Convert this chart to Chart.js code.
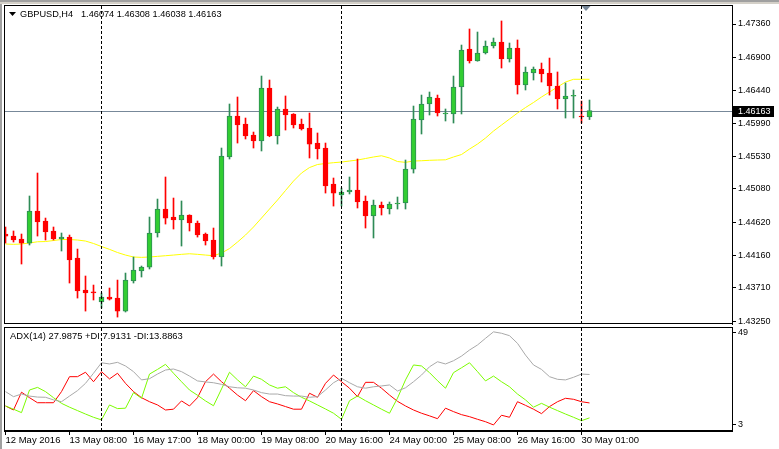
<!DOCTYPE html>
<html>
<head>
<meta charset="utf-8">
<script src="https://cdn.jsdelivr.net/npm/chart.js@4.4.1/dist/chart.umd.min.js"></script>
<style>
	html, body {margin:0; padding:0; background:#fff; overflow:hidden;}
	#wrap {position:relative; width:779px; height:449px;}
	.box {position:absolute; left:0; width:779px;}
</style>
</head>
<body>
<div id="wrap">
	<div class="box" style="top:0; height:326px;"><canvas id="main" width="779" height="326"></canvas></div>
	<div class="box" style="top:326px; height:123px;"><canvas id="adx" width="779" height="123"></canvas></div>
</div>
<script>
// dados (GBPUSD H4)
const symbolTitle = 'GBPUSD,H4';
const lastQuote = '1.46074 1.46308 1.46038 1.46163';
const adxTitle = 'ADX(14) 27.9875 +DI:7.9131 -DI:13.8863';

const opens = [1.44454,1.44426,1.44385,1.44329,1.44772,1.44634,1.44496,1.44385,1.44412,1.44122,
	1.43679,1.43648,1.43513,1.43582,1.43568,1.43388,1.43804,1.43942,1.43997,1.44468,
	1.44800,1.44689,1.44648,1.44717,1.44606,1.44454,1.44371,1.44136,1.45520,1.46087,
	1.45976,1.45824,1.45741,1.46474,1.45810,1.46184,1.46115,1.45976,1.45921,1.45713,
	1.45644,1.45146,1.44994,1.45035,1.45063,1.44911,1.44703,1.44855,1.44800,1.44869,
	1.44883,1.45353,1.46032,1.46253,1.46336,1.46115,1.46115,1.46488,1.47014,1.46848,
	1.46959,1.47056,1.47111,1.46876,1.47028,1.46516,1.46682,1.46737,1.46682,1.46502,
	1.46322,1.46360,1.46087,1.46074];
const highs = [1.44551,1.44496,1.44454,1.44980,1.45298,1.44675,1.44551,1.44468,1.44440,1.44246,
	1.43873,1.43748,1.43638,1.43707,1.43817,1.43914,1.44136,1.44011,1.44689,1.44938,
	1.45243,1.44952,1.44911,1.44720,1.44634,1.44468,1.44537,1.45644,1.46253,1.46350,
	1.46059,1.45865,1.46640,1.46585,1.46211,1.46364,1.46120,1.46045,1.46128,1.45852,
	1.45713,1.45229,1.45091,1.45243,1.45492,1.44980,1.44924,1.44897,1.44897,1.44966,
	1.45478,1.46225,1.46377,1.46419,1.46377,1.46184,1.46640,1.47069,1.47291,1.47249,
	1.47125,1.47166,1.47402,1.47097,1.47139,1.46765,1.46765,1.46820,1.46889,1.46696,
	1.46544,1.46447,1.46294,1.46308];
const lows = [1.44329,1.44343,1.44039,1.44302,1.44426,1.44371,1.44371,1.44219,1.43776,1.43568,
	1.43388,1.43541,1.43430,1.43541,1.43305,1.43375,1.43776,1.43859,1.43970,1.44412,
	1.44592,1.44523,1.44288,1.44496,1.44412,1.44302,1.44108,1.44011,1.45492,1.45713,
	1.45769,1.45644,1.45603,1.45800,1.45699,1.45893,1.45921,1.45893,1.45506,1.45492,
	1.45021,1.44841,1.44841,1.45008,1.44814,1.44537,1.44399,1.44717,1.44731,1.44800,
	1.44800,1.45298,1.45838,1.46101,1.46087,1.46018,1.45990,1.46115,1.46820,1.46845,
	1.46945,1.47028,1.46751,1.46834,1.46391,1.46447,1.46585,1.46557,1.46377,1.46184,
	1.46059,1.46059,1.45990,1.46038];
const closes = [1.44426,1.44371,1.44329,1.44772,1.44620,1.44482,1.44385,1.44412,1.44094,1.43665,
	1.43638,1.43640,1.43582,1.43554,1.43388,1.43817,1.43956,1.43997,1.44468,1.44800,
	1.44675,1.44648,1.44717,1.44606,1.44440,1.44357,1.44136,1.45533,1.46087,1.45962,
	1.45810,1.45741,1.46474,1.45810,1.46184,1.46101,1.45962,1.45907,1.45699,1.45630,
	1.45118,1.45021,1.45035,1.45063,1.44897,1.44703,1.44855,1.44814,1.44869,1.44883,
	1.45353,1.46045,1.46253,1.46350,1.46128,1.46128,1.46488,1.47000,1.46848,1.46959,
	1.47056,1.47111,1.46876,1.47028,1.46516,1.46696,1.46737,1.46668,1.46502,1.46322,
	1.46364,1.46366,1.46073,1.46163];
const movingAvg = [1.44316,1.44311,1.44316,1.44330,1.44347,1.44350,1.44364,1.44378,1.44378,1.44371,
	1.44357,1.44323,1.44281,1.44242,1.44198,1.44163,1.44136,1.44131,1.44136,1.44145,
	1.44154,1.44163,1.44173,1.44181,1.44173,1.44163,1.44154,1.44191,1.44253,1.44343,
	1.44440,1.44551,1.44675,1.44800,1.44924,1.45056,1.45187,1.45298,1.45374,1.45416,
	1.45430,1.45441,1.45450,1.45464,1.45478,1.45499,1.45520,1.45537,1.45506,1.45457,
	1.45446,1.45464,1.45468,1.45474,1.45478,1.45481,1.45520,1.45554,1.45630,1.45699,
	1.45782,1.45879,1.45962,1.46045,1.46128,1.46204,1.46274,1.46350,1.46419,1.46488,
	1.46557,1.46595,1.46595,1.46595];

const adxLine = [19.5,17.0,18.3,17.3,16.8,16.7,15.4,14.5,17.3,20.0,
	23.6,28.6,33.8,33.2,34.0,32.2,29.4,25.3,25.9,28.2,
	30.2,30.7,29.4,27.2,24.8,24.3,23.9,23.1,21.9,21.4,
	21.2,20.3,19.0,18.3,18.3,17.5,17.3,17.3,16.7,17.0,
	20.3,23.9,26.1,23.9,21.9,21.2,21.9,22.3,22.8,19.8,
	21.4,24.4,27.7,31.8,34.3,33.2,34.8,37.1,40.1,42.6,
	45.9,49.1,48.4,47.2,43.4,37.6,32.7,30.5,26.9,25.6,
	25.3,26.6,28.2,28.0];
const plusDI = [12.4,10.8,9.1,20.3,21.6,19.5,16.5,13.7,11.8,10.1,
	8.4,6.8,5.5,12.9,11.1,11.3,19.0,16.2,28.2,30.5,
	33.0,28.6,24.4,20.3,17.7,14.9,12.5,20.8,29.1,25.3,
	21.9,27.2,25.6,22.8,21.2,21.9,19.0,16.7,14.9,12.9,
	10.9,8.8,5.8,15.0,17.3,15.0,12.9,10.8,8.8,16.3,
	25.3,32.7,32.2,28.9,24.9,21.2,28.9,31.3,33.8,29.4,
	24.8,27.2,24.4,21.9,18.3,15.4,11.8,13.7,11.8,10.1,
	8.4,6.8,5.1,6.5];
const minusDI = [12.4,10.4,19.2,16.5,14.0,14.0,14.0,19.5,26.9,26.9,
	29.1,24.4,29.4,25.8,28.6,23.6,19.5,16.5,14.5,12.9,
	10.4,10.8,14.9,12.4,16.5,24.4,28.2,24.4,21.2,17.8,
	15.0,20.0,17.0,14.5,13.4,12.1,10.8,10.8,18.7,16.7,
	23.6,27.7,24.4,21.2,17.0,24.1,24.1,21.2,17.8,14.7,
	12.4,10.4,8.8,7.5,6.1,11.3,9.6,8.1,7.1,5.8,
	4.6,3.0,7.8,6.8,14.5,12.7,10.8,8.6,12.1,14.5,
	16.2,15.7,14.5,13.9];

const priceTicks = [1.43250,1.43710,1.44160,1.44620,1.45080,1.45530,1.45990,1.46440,1.46900,1.47360];
const adxTicks = [3, 49];
const timeLabels = ['12 May 2016','13 May 08:00','16 May 17:00','18 May 00:00','19 May 08:00',
	'20 May 16:00','24 May 00:00','25 May 08:00','26 May 16:00','30 May 01:00'];
const labelBars = [0,8,16,24,32,40,48,56,64,72];
const separatorBars = [12,42,72];

const FONT = '"Liberation Sans", Arial, sans-serif';
const X_MIN = -0.1875, X_MAX = 90.8125;
const UP = '#32cd32', UP_LINE = '#2e8b57', DOWN = '#ff0000';

let bars = closes.map((c, i) => i);
let isUp = bars.map(i => closes[i] >= opens[i]);

function drawSeparators(chart){
	let ctx = chart.ctx, area = chart.chartArea, xs = chart.scales.x;
	ctx.save();
	ctx.strokeStyle = '#000';
	ctx.lineWidth = 1;
	ctx.setLineDash([3, 2]);
	separatorBars.forEach((b) => {
		let x = Math.round(xs.getPixelForValue(b)) - 0.5;
		ctx.beginPath();
		ctx.moveTo(x, area.top + 1);
		ctx.lineTo(x, area.bottom);
		ctx.stroke();
	});
	ctx.restore();
}

function drawFrame(chart){
	let ctx = chart.ctx, a = chart.chartArea;
	ctx.save();
	ctx.strokeStyle = '#000';
	ctx.lineWidth = 1;
	ctx.strokeRect(a.left + 0.5, a.top + 0.5, a.right - a.left, a.bottom - a.top - 1);
	ctx.restore();
}

const mainPlugin = {
	id: 'mainPlugin',
	beforeDatasetsDraw(chart){
		let ctx = chart.ctx, a = chart.chartArea;
		let y = Math.round(chart.scales.y.getPixelForValue(closes[closes.length - 1])) + 0.5;
		ctx.save();
		ctx.strokeStyle = '#778899';
		ctx.lineWidth = 1;
		ctx.beginPath();
		ctx.moveTo(a.left, y);
		ctx.lineTo(a.right, y);
		ctx.stroke();
		ctx.restore();
	},
	afterDatasetsDraw(chart){
		drawSeparators(chart);
	},
	afterDraw(chart){
		let ctx = chart.ctx, a = chart.chartArea;
		ctx.save();
		// borda da janela
		ctx.fillStyle = '#a0a0a0';
		ctx.fillRect(0, 0, 779, 2);
		ctx.fillRect(0, 0, 2, 326);
		ctx.fillStyle = '#d4d0c8';
		ctx.fillRect(0, 2, 779, 2);
		ctx.restore();
		drawFrame(chart);

		ctx.save();
		ctx.fillStyle = '#000';
		ctx.beginPath();
		ctx.moveTo(9, 12); ctx.lineTo(16, 12); ctx.lineTo(12.5, 16);
		ctx.fill();
		ctx.font = '9.2px ' + FONT;
		ctx.textBaseline = 'middle';
		ctx.fillText(symbolTitle, 20, 14);
		ctx.fillText(lastQuote, 81, 14);

		// marcador de deslocamento
		let sx = chart.scales.x.getPixelForValue(separatorBars[2]);
		ctx.fillStyle = '#778899';
		ctx.beginPath();
		ctx.moveTo(sx, a.top + 1); ctx.lineTo(sx + 9, a.top + 1); ctx.lineTo(sx + 4.5, a.top + 6);
		ctx.fill();

		// preço atual no eixo
		let last = closes[closes.length - 1];
		let y = Math.round(chart.scales.y.getPixelForValue(last));
		ctx.fillStyle = '#000';
		ctx.fillRect(a.right + 1, y - 5, 41, 11);
		ctx.fillStyle = '#fff';
		ctx.font = '9px ' + FONT;
		ctx.fillText(last.toFixed(5), a.right + 6, y + 0.5);
		ctx.restore();
	}
};

const adxPlugin = {
	id: 'adxPlugin',
	afterDatasetsDraw(chart){
		drawSeparators(chart);
	},
	afterDraw(chart){
		let ctx = chart.ctx;
		ctx.save();
		ctx.fillStyle = '#a0a0a0';
		ctx.fillRect(0, 0, 2, 123);
		ctx.restore();
		drawFrame(chart);
		ctx.save();
		ctx.fillStyle = '#000';
		ctx.font = '9.4px ' + FONT;
		ctx.textBaseline = 'middle';
		ctx.fillText(adxTitle, 10, 10);
		ctx.restore();
	}
};

function yAxis(min, max, ticks, fmt){
	return {
		position: 'right', min: min, max: max,
		afterBuildTicks: (s) => { s.ticks = ticks.map((v) => ({value: v})); },
		afterFit: (s) => { s.width = 47; s.paddingTop = 0; s.paddingBottom = 0; },
		ticks: {callback: fmt, font: {family: FONT, size: 9}, color: '#000', padding: 2, autoSkip: false},
		grid: {drawOnChartArea: false, color: '#000', tickLength: 4},
		border: {color: '#000'}
	};
}

let mainChart, adxChart;

function setupCharts(){
	mainChart = new Chart(document.getElementById('main'), {
		data: {
			datasets: [
				{type: 'line', data: bars.map((i) => ({x: i, y: movingAvg[i]})), borderColor: '#ffff00',
					borderWidth: 1, pointRadius: 0, order: 3},
				{type: 'bar', data: bars.map((i) => ({x: i, y: [lows[i], highs[i]]})),
					backgroundColor: bars.map((i) => isUp[i] ? UP_LINE : DOWN),
					barThickness: 1, grouped: false, order: 2},
				{type: 'bar', data: bars.map((i) => ({x: i, y: [opens[i], closes[i]]})),
					backgroundColor: bars.map((i) => isUp[i] ? UP : DOWN),
					borderColor: bars.map((i) => isUp[i] ? UP_LINE : DOWN),
					borderWidth: 1, borderSkipped: false, minBarLength: 1,
					barThickness: 5, grouped: false, order: 1}
			]
		},
		options: {
			responsive: false, animation: false, devicePixelRatio: 1,
			layout: {padding: {top: 5, left: 4, right: 0, bottom: 2}},
			plugins: {legend: {display: false}, tooltip: {enabled: false}},
			scales: {
				x: {type: 'linear', min: X_MIN, max: X_MAX, offset: false, display: false},
				y: yAxis(1.43209, 1.47623, priceTicks, (v) => v.toFixed(5))
			}
		},
		plugins: [mainPlugin]
	});

	adxChart = new Chart(document.getElementById('adx'), {
		type: 'line',
		data: {
			datasets: [
				{data: bars.map((i) => ({x: i, y: adxLine[i]})), borderColor: '#a9a9a9'},
				{data: bars.map((i) => ({x: i, y: plusDI[i]})), borderColor: '#7cfc00'},
				{data: bars.map((i) => ({x: i, y: minusDI[i]})), borderColor: '#ff0000'}
			]
		},
		options: {
			responsive: false, animation: false, devicePixelRatio: 1,
			layout: {padding: {top: 1, left: 4, right: 0, bottom: 0}},
			elements: {line: {borderWidth: 1, tension: 0}, point: {radius: 0}},
			plugins: {legend: {display: false}, tooltip: {enabled: false}},
			scales: {
				x: {
					type: 'linear', min: X_MIN, max: X_MAX, offset: false,
					afterBuildTicks: (s) => { s.ticks = labelBars.map((v) => ({value: v})); },
					afterFit: (s) => { s.height = 18; s.paddingLeft = 0; s.paddingRight = 0; },
					ticks: {callback: (v, idx) => timeLabels[idx], align: 'start', maxRotation: 0,
						autoSkip: false, font: {family: FONT, size: 9.5}, color: '#000', padding: 0},
					grid: {drawOnChartArea: false, color: '#000', tickLength: 4},
					border: {color: '#000'}
				},
				y: yAxis(0, 51.5, adxTicks, (v) => String(v))
			}
		},
		plugins: [adxPlugin]
	});
}

setupCharts();
</script>
</body>
</html>
